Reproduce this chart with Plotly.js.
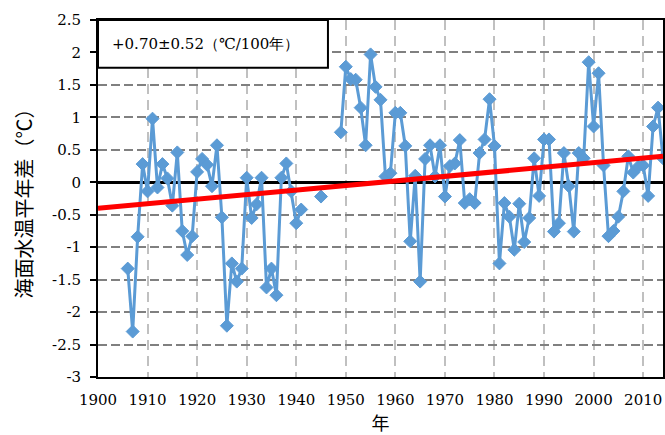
<!DOCTYPE html>
<html>
<head>
<meta charset="utf-8">
<script src="https://cdn.plot.ly/plotly-3.0.1.min.js"></script>
<style>html,body{margin:0;padding:0;background:#fff;}#chart{width:665px;height:435px;}</style>
</head>
<body>
<div id="chart"></div>
<script>
// Years and sea surface temperature anomalies (°C); null = missing year
const years = [];
for (let y = 1906; y <= 2014; y++) years.push(y);
const anomalies = [
  -1.33, -2.30, -0.84, 0.28, -0.14, 0.98, -0.08, 0.28, 0.06, -0.36,   // 1906-1915
  0.46, -0.75, -1.12, -0.83, 0.16, 0.36, 0.27, -0.06, 0.57, -0.54,     // 1916-1925
  -2.21, -1.25, -1.53, -1.33, 0.07, -0.55, -0.34, 0.07, -1.62, -1.33,  // 1926-1935
  -1.74, 0.07, 0.29, -0.14, -0.63, -0.42, null, null, null, -0.22,      // 1936-1945
  null, null, null, 0.77, 1.78, 1.59, 1.58, 1.15, 0.57, 1.97,           // 1946-1955
  1.47, 1.27, 0.09, 0.14, 1.07, 1.07, 0.56, -0.91, 0.10, -1.53,         // 1956-1965
  0.36, 0.57, 0.09, 0.57, -0.22, 0.25, 0.29, 0.65, -0.32, -0.26,        // 1966-1975
  -0.32, 0.45, 0.66, 1.28, 0.56, -1.25, -0.32, -0.53, -1.04, -0.33,     // 1976-1985
  -0.92, -0.55, 0.37, -0.21, 0.66, 0.66, -0.76, -0.63, 0.45, -0.06,     // 1986-1995
  -0.76, 0.45, 0.37, 1.85, 0.86, 1.68, 0.26, -0.83, -0.75, -0.53,       // 1996-2005
  -0.14, 0.40, 0.15, 0.24, 0.26, -0.21, 0.86, 1.15, 0.37                // 2006-2014
];
// Linear trend (+0.70 °C / 100 years)
const trendYears = [1900, 2014];
const trendValues = [-0.40, 0.40];
const trendLabel = '+0.70±0.52（℃/100年）';

const yTickVals = [2.5, 2, 1.5, 1, 0.5, 0, -0.5, -1, -1.5, -2, -2.5, -3];
const yTickText = ['2.5', '2', '1.5', '1', '0.5', '0', '-0.5', '-1', '-1.5', '-2', '-2.5', '-3'];
const xTickVals = [1900, 1910, 1920, 1930, 1940, 1950, 1960, 1970, 1980, 1990, 2000, 2010];
const xTickText = xTickVals.map(String);

const serif = "DejaVu Serif";
const cjk = "Noto Sans CJK JP";

const traces = [
  {
    x: years, y: anomalies, type: 'scatter', mode: 'lines+markers',
    connectgaps: false,
    line: {color: '#5B9BD5', width: 3},
    marker: {symbol: 'diamond', size: 10, color: '#5B9BD5', line: {color: '#5B9BD5', width: 1}},
    cliponaxis: false,
    hoverinfo: 'x+y'
  },
  {
    x: trendYears, y: trendValues, type: 'scatter', mode: 'lines',
    line: {color: '#FF0000', width: 5},
    hoverinfo: 'skip'
  }
];

const layout = {
  width: 665, height: 435,
  margin: {l: 98, r: 2, t: 20, b: 58},
  paper_bgcolor: '#ffffff', plot_bgcolor: '#ffffff',
  showlegend: false,
  font: {family: serif, color: '#000000', size: 16},
  xaxis: {
    range: [1900, 2014], tickvals: xTickVals, ticktext: xTickText,
    showgrid: true, gridcolor: '#C0C0C0', gridwidth: 2, griddash: '10px,6px',
    showline: true, linecolor: '#000000', linewidth: 2, mirror: true,
    ticks: '', zeroline: false, ticklabelstandoff: 8,
    tickfont: {family: serif, size: 15, color: '#000'},
    title: {text: '年', font: {family: cjk, size: 18, color: '#000'}, standoff: 8}
  },
  yaxis: {
    range: [-3, 2.5], tickvals: yTickVals, ticktext: yTickText,
    showgrid: true, gridcolor: '#808080', gridwidth: 2, griddash: '9px,4px',
    showline: true, linecolor: '#000000', linewidth: 2, mirror: true,
    ticks: 'outside', ticklen: 6, tickwidth: 2, tickcolor: '#000',
    zeroline: true, zerolinecolor: '#000000', zerolinewidth: 2.5,
    ticklabelstandoff: 6,
    tickfont: {family: serif, size: 15, color: '#000'},
    title: {text: '海面水温平年差（℃）', font: {family: cjk, size: 20, color: '#000'}, standoff: 14}
  },
  shapes: [{
    type: 'rect', xref: 'paper', yref: 'paper', layer: 'above',
    x0: 0, x1: 0.407, y0: 0.866, y1: 1,
    fillcolor: '#ffffff', line: {color: '#000000', width: 2}
  }],
  annotations: [{
    xref: 'paper', yref: 'paper', x: 0.19, y: 0.933, xanchor: 'center', yanchor: 'middle',
    text: trendLabel, showarrow: false,
    font: {family: serif, size: 15, color: '#000'}
  }]
};

Plotly.newPlot('chart', traces, layout, {staticPlot: true, displayModeBar: false});
</script>
</body>
</html>
